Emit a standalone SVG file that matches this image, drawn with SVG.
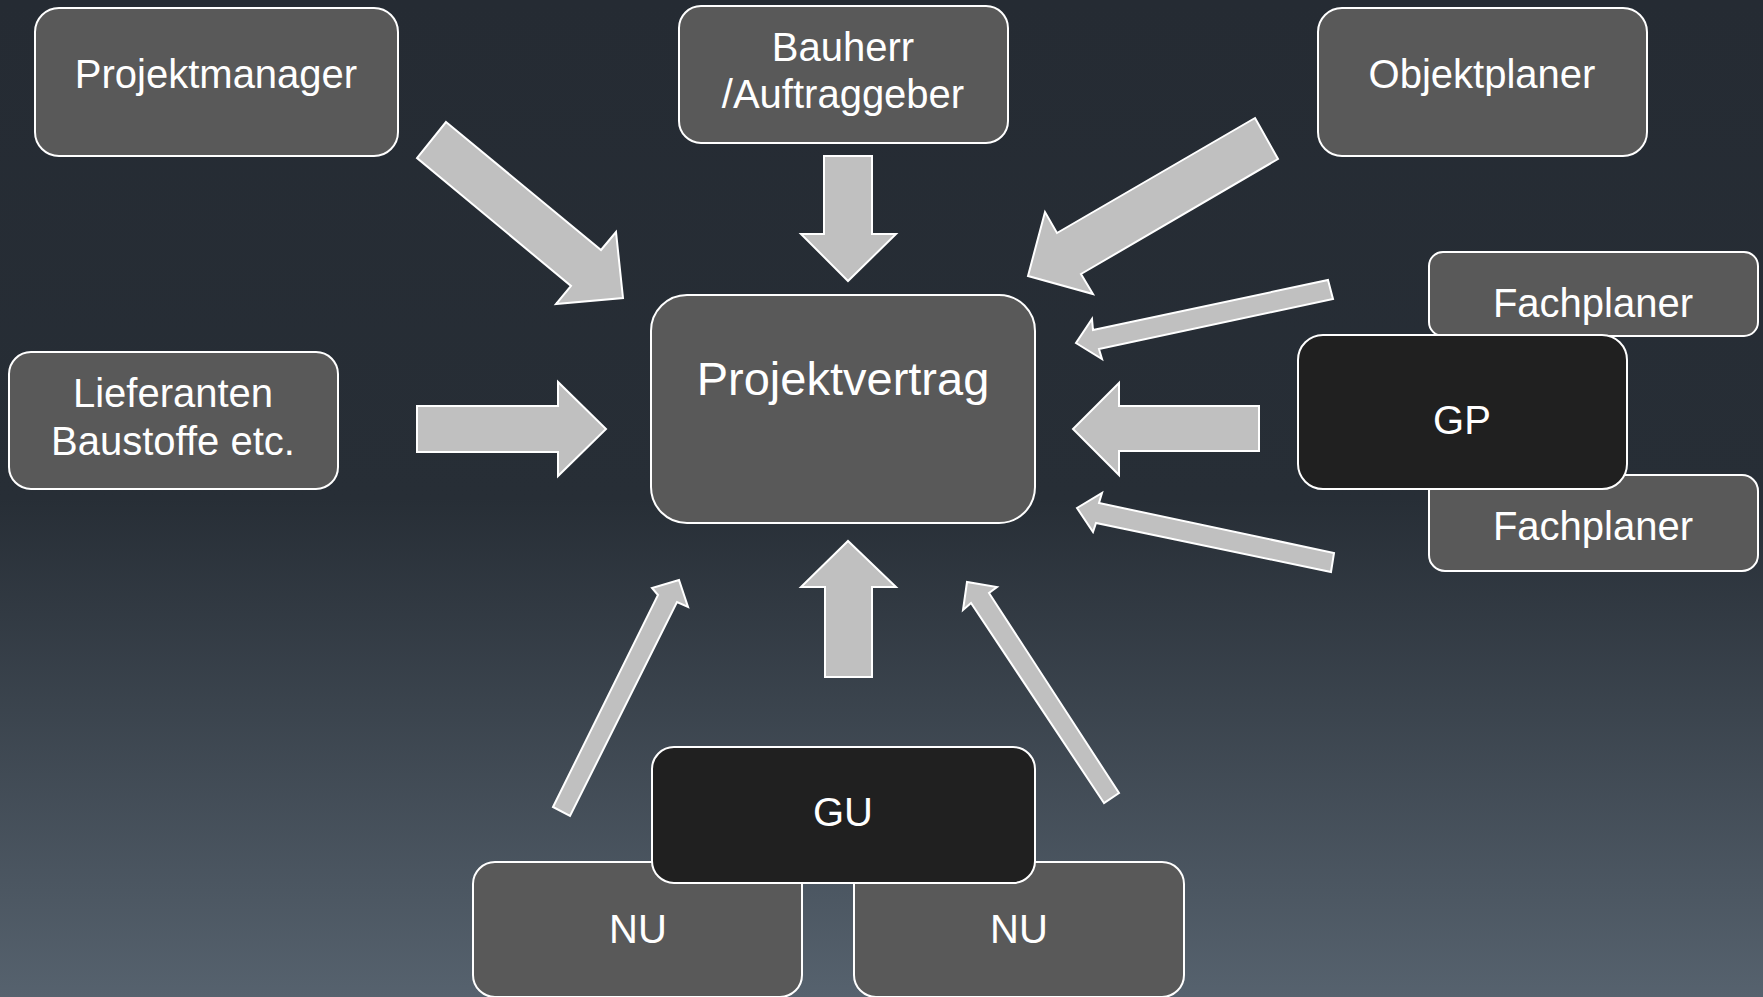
<svg xmlns="http://www.w3.org/2000/svg" width="1763" height="997" viewBox="0 0 1763 997">
<defs>
<linearGradient id="bg" x1="0" y1="0" x2="0" y2="1">
<stop offset="0" stop-color="#252b33"/>
<stop offset="0.5" stop-color="#272e36"/>
<stop offset="1" stop-color="#56626e"/>
</linearGradient>
</defs>
<style>
.box{fill:#595959;stroke:#ffffff;stroke-width:2}
.dark{fill:#202020;stroke:#ffffff;stroke-width:2}
.t{font-family:"Liberation Sans",Arial,sans-serif;font-size:40px;fill:#ffffff;text-anchor:middle}
.big{font-size:47px}
.arr{fill:#c0c0c0;stroke:#ffffff;stroke-width:2;stroke-linejoin:miter}
</style>
<rect x="0" y="0" width="1763" height="997" fill="url(#bg)"/>
<g id="connectors">
<polygon class="arr" points="446,122 601,250 616,232 623,298 556,304 571,286 417,158"/>
<polygon class="arr" points="824,156 872,156 872,234 896,234 848,281 801,234 824,234"/>
<polygon class="arr" points="1255,118 1278,159 1081,274 1093,294 1028,276 1045,212 1057,233"/>
<polygon class="arr" points="1328,280 1333,299 1099,349 1102,359 1076,343 1092,319 1093,330"/>
<polygon class="arr" points="1259,406 1259,451 1119,451 1119,475 1073,429 1119,383 1119,406"/>
<polygon class="arr" points="1334,553 1331,572 1096,523 1093,532 1077,508 1102,493 1099,503"/>
<polygon class="arr" points="417,406 558,406 558,382 606,429 558,476 558,452 417,452"/>
<polygon class="arr" points="825,677 825,587 801,587 848,541 896,587 872,587 872,677"/>
<polygon class="arr" points="553,807 658,595 652,588 679,580 688,607 677,602 570,816"/>
<polygon class="arr" points="1104,803 971,603 963,610 967,582 997,587 989,593 1119,793"/>
</g>
<g id="projektmanager">
<rect class="box" x="35" y="8" width="363" height="148" rx="24"/>
<text class="t" x="216" y="88">Projektmanager</text>
</g>
<g id="bauherr">
<rect class="box" x="679" y="6" width="329" height="137" rx="22"/>
<text class="t" x="843" y="61">Bauherr</text>
<text class="t" x="843" y="108">/Auftraggeber</text>
</g>
<g id="objektplaner">
<rect class="box" x="1318" y="8" width="329" height="148" rx="24"/>
<text class="t" x="1482" y="88">Objektplaner</text>
</g>
<g id="fachplaner1">
<rect class="box" x="1429" y="252" width="329" height="84" rx="14"/>
<text class="t" x="1593" y="317">Fachplaner</text>
</g>
<g id="fachplaner2">
<rect class="box" x="1429" y="475" width="329" height="96" rx="16"/>
<text class="t" x="1593" y="540">Fachplaner</text>
</g>
<g id="gp">
<rect class="dark" x="1298" y="335" width="329" height="154" rx="25"/>
<text class="t" x="1462" y="434">GP</text>
</g>
<g id="lieferanten">
<rect class="box" x="9" y="352" width="329" height="137" rx="22"/>
<text class="t" x="173" y="407">Lieferanten</text>
<text class="t" x="173" y="455">Baustoffe etc.</text>
</g>
<g id="projektvertrag">
<rect class="box" x="651" y="295" width="384" height="228" rx="36"/>
<text class="t big" x="843" y="395">Projektvertrag</text>
</g>
<g id="nu1">
<rect class="box" x="473" y="862" width="329" height="135" rx="22"/>
<text class="t" x="638" y="943">NU</text>
</g>
<g id="nu2">
<rect class="box" x="854" y="862" width="330" height="135" rx="22"/>
<text class="t" x="1019" y="943">NU</text>
</g>
<g id="gu">
<rect class="dark" x="652" y="747" width="383" height="136" rx="22"/>
<text class="t" x="843" y="826">GU</text>
</g>
</svg>
